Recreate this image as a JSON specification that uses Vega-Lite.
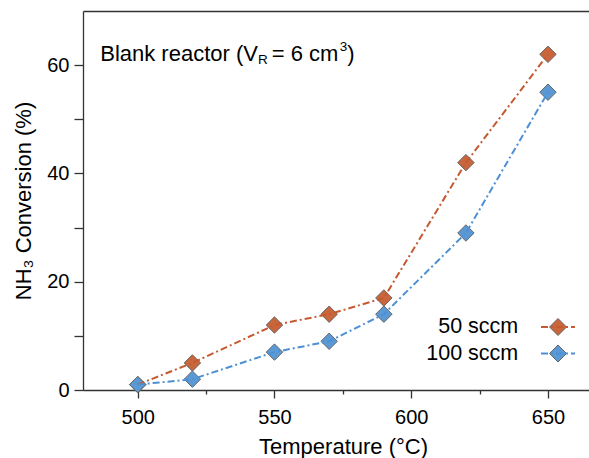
{
  "$schema": "https://vega.github.io/schema/vega-lite/v6.json",
  "width": 506,
  "height": 379,
  "autosize": {"type": "none"},
  "padding": {"left": 83, "top": 11, "right": 0, "bottom": 68},
  "config": {
    "font": "Liberation Sans",
    "view": {"stroke": null},
    "axis": {
      "grid": false,
      "domainColor": "#333333",
      "tickColor": "#333333",
      "domainWidth": 1.3,
      "tickWidth": 1.3,
      "labelColor": "#000000",
      "titleColor": "#000000",
      "labelFont": "Liberation Sans",
      "titleFont": "Liberation Sans",
      "titleFontWeight": "normal"
    }
  },
  "data": {
    "values": [
      {"temperature": 500, "conversion": 1, "flow": "50 sccm"},
      {"temperature": 520, "conversion": 5, "flow": "50 sccm"},
      {"temperature": 550, "conversion": 12, "flow": "50 sccm"},
      {"temperature": 570, "conversion": 14, "flow": "50 sccm"},
      {"temperature": 590, "conversion": 17, "flow": "50 sccm"},
      {"temperature": 620, "conversion": 42, "flow": "50 sccm"},
      {"temperature": 650, "conversion": 62, "flow": "50 sccm"},
      {"temperature": 500, "conversion": 1, "flow": "100 sccm"},
      {"temperature": 520, "conversion": 2, "flow": "100 sccm"},
      {"temperature": 550, "conversion": 7, "flow": "100 sccm"},
      {"temperature": 570, "conversion": 9, "flow": "100 sccm"},
      {"temperature": 590, "conversion": 14, "flow": "100 sccm"},
      {"temperature": 620, "conversion": 29, "flow": "100 sccm"},
      {"temperature": 650, "conversion": 55, "flow": "100 sccm"}
    ]
  },
  "layer": [
    {
      "mark": {"type": "point", "shape": "diamond", "filled": true, "size": 270, "stroke": "#666666", "strokeWidth": 1, "opacity": 1},
      "encoding": {
        "x": {
          "field": "temperature", "type": "quantitative",
          "scale": {"domain": [480, 665], "nice": false, "zero": false},
          "axis": {
            "orient": "bottom",
            "values": [500, 550, 600, 650],
            "tickSize": 8,
            "labelPadding": 9,
            "labelFontSize": 20,
            "title": "Temperature (°C)",
            "titleFontSize": 22,
            "titleX": 260,
            "titleY": 46
          }
        },
        "y": {
          "field": "conversion", "type": "quantitative",
          "scale": {"domain": [0, 70], "nice": false},
          "axis": {
            "values": [0, 10, 20, 30, 40, 50, 60],
            "labelExpr": "datum.value % 20 === 0 ? datum.label : ''",
            "tickSize": 9,
            "labelPadding": 5,
            "labelFontSize": 20,
            "title": "NH₃ Conversion (%)",
            "titleFontSize": 22,
            "titleX": -48,
            "titleY": 189.5
          }
        },
        "fill": {
          "field": "flow", "type": "nominal",
          "scale": {"domain": ["50 sccm", "100 sccm"], "range": ["#c9663c", "#5b99d5"]},
          "legend": {
            "orient": "none",
            "legendX": 464.25,
            "legendY": 305.25,
            "title": null,
            "padding": 0,
            "rowPadding": 3.5,
            "symbolType": "M 0 -1 L 1 0 L 0 1 L -1 0 Z",
            "symbolSize": 289,
            "symbolOffset": 0,
            "symbolStrokeColor": "#666666",
            "symbolStrokeWidth": 1,
            "symbolOpacity": 1,
            "labelAlign": "right",
            "labelOffset": -50.5,
            "labelFontSize": 21.5,
            "labelColor": "#000000",
            "labelFont": "Liberation Sans"
          }
        }
      }
    },
    {
      "mark": {"type": "line", "strokeWidth": 2, "strokeDash": [7, 3, 2, 3]},
      "encoding": {
        "x": {
          "field": "temperature", "type": "quantitative",
          "axis": {
            "orient": "bottom",
            "values": [525, 575, 625],
            "tickSize": 4,
            "labels": false,
            "domain": false,
            "title": null
          }
        },
        "y": {"field": "conversion", "type": "quantitative", "axis": null},
        "stroke": {
          "field": "flow", "type": "nominal",
          "scale": {"domain": ["100 sccm", "50 sccm"], "range": ["#4d90d3", "#c55a31"]},
          "legend": {
            "values": ["50 sccm", "100 sccm"],
            "orient": "none",
            "legendX": 464.25,
            "legendY": 305.25,
            "title": null,
            "padding": 0,
            "rowPadding": 3.5,
            "symbolType": "M -2 0 L 2 0",
            "symbolSize": 289,
            "symbolOffset": 0,
            "symbolStrokeWidth": 2,
            "symbolDash": [7, 3, 2, 3],
            "symbolFillColor": "transparent",
            "labelAlign": "right",
            "labelOffset": -50.5,
            "labelFontSize": 21.5,
            "labelOpacity": 0
          }
        }
      }
    },
    {
      "data": {"values": [{"note": "Blank reactor (V"}]},
      "mark": {"type": "text", "align": "left", "baseline": "alphabetic", "fontSize": 22, "font": "Liberation Sans", "color": "#000000", "dx": 0},
      "encoding": {
        "x": {"datum": 486.29, "type": "quantitative", "axis": {"orient": "top", "labels": false, "ticks": false, "domain": true, "title": null}},
        "y": {"datum": 60.82, "type": "quantitative", "axis": null},
        "text": {"field": "note"}
      }
    },
    {
      "data": {"values": [{"note": "R"}]},
      "mark": {"type": "text", "align": "left", "baseline": "alphabetic", "fontSize": 13.5, "font": "Liberation Sans", "color": "#000000", "dx": 157.7, "dy": 3},
      "encoding": {
        "x": {"datum": 486.29, "type": "quantitative", "axis": null},
        "y": {"datum": 60.82, "type": "quantitative", "axis": null},
        "text": {"field": "note"}
      }
    },
    {
      "data": {"values": [{"note": "= 6 cm"}]},
      "mark": {"type": "text", "align": "left", "baseline": "alphabetic", "fontSize": 22, "font": "Liberation Sans", "color": "#000000", "dx": 171.5},
      "encoding": {
        "x": {"datum": 486.29, "type": "quantitative", "axis": null},
        "y": {"datum": 60.82, "type": "quantitative", "axis": null},
        "text": {"field": "note"}
      }
    },
    {
      "data": {"values": [{"note": "3"}]},
      "mark": {"type": "text", "align": "left", "baseline": "alphabetic", "fontSize": 13.5, "font": "Liberation Sans", "color": "#000000", "dx": 239.5, "dy": -10},
      "encoding": {
        "x": {"datum": 486.29, "type": "quantitative", "axis": null},
        "y": {"datum": 60.82, "type": "quantitative", "axis": null},
        "text": {"field": "note"}
      }
    },
    {
      "data": {"values": [{"note": ")"}]},
      "mark": {"type": "text", "align": "left", "baseline": "alphabetic", "fontSize": 22, "font": "Liberation Sans", "color": "#000000", "dx": 247},
      "encoding": {
        "x": {"datum": 486.29, "type": "quantitative", "axis": null},
        "y": {"datum": 60.82, "type": "quantitative", "axis": null},
        "text": {"field": "note"}
      }
    }
  ],
  "resolve": {"axis": {"x": "independent", "y": "independent"}}
}
